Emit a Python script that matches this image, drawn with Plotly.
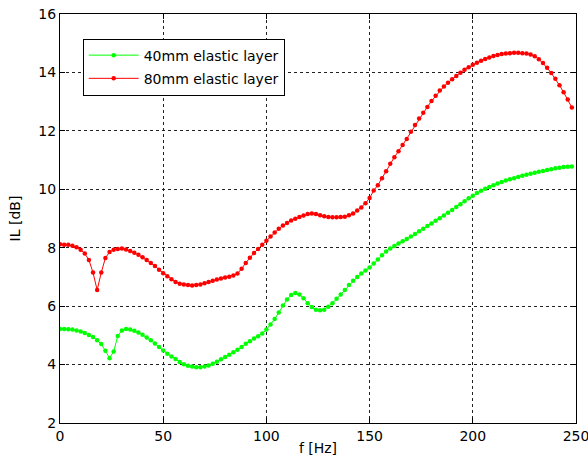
import plotly.graph_objects as go

# Frequency axis [Hz], sampled every 2 Hz
freq = list(range(0, 250, 2))

# Insertion loss [dB], 40 mm elastic layer
il_40mm = [
    5.22, 5.22, 5.21, 5.20, 5.17, 5.13, 5.08, 5.01, 4.94, 4.83,
    4.70, 4.47, 4.22, 4.45, 4.98, 5.17, 5.22, 5.20, 5.16, 5.10,
    5.02, 4.93, 4.83, 4.72, 4.60, 4.48, 4.37, 4.28, 4.19, 4.09,
    4.01, 3.96, 3.93, 3.91, 3.91, 3.93, 3.97, 4.03, 4.10, 4.18,
    4.26, 4.34, 4.42, 4.51, 4.60, 4.71, 4.80, 4.89, 4.97, 5.06,
    5.20, 5.37, 5.56, 5.78, 6.02, 6.23, 6.38, 6.45, 6.40, 6.27,
    6.10, 5.97, 5.88, 5.86, 5.88, 5.98, 6.10, 6.25, 6.40, 6.55,
    6.72, 6.87, 7.00, 7.12, 7.22, 7.32, 7.46, 7.60, 7.74, 7.87,
    7.97, 8.06, 8.14, 8.22, 8.30, 8.38, 8.47, 8.56, 8.65, 8.74,
    8.83, 8.92, 9.01, 9.10, 9.20, 9.29, 9.39, 9.49, 9.59, 9.69,
    9.78, 9.87, 9.95, 10.02, 10.08, 10.14, 10.20, 10.25, 10.30, 10.34,
    10.38, 10.42, 10.46, 10.50, 10.53, 10.57, 10.60, 10.63, 10.66, 10.69,
    10.72, 10.74, 10.76, 10.77, 10.78,
]

# Insertion loss [dB], 80 mm elastic layer
il_80mm = [
    8.12, 8.10, 8.10, 8.07, 8.02, 7.93, 7.80, 7.58, 7.15, 6.55,
    7.15, 7.65, 7.85, 7.93, 7.96, 7.97, 7.94, 7.89, 7.83, 7.76,
    7.67, 7.58, 7.48, 7.37, 7.25, 7.13, 7.02, 6.92, 6.83, 6.77,
    6.74, 6.72, 6.71, 6.72, 6.74, 6.78, 6.83, 6.87, 6.91, 6.95,
    6.98, 7.01, 7.05, 7.12, 7.28, 7.48, 7.66, 7.82, 7.96, 8.10,
    8.24, 8.38, 8.52, 8.65, 8.76, 8.85, 8.93, 8.99, 9.05, 9.10,
    9.15, 9.17, 9.15, 9.11, 9.08, 9.05, 9.04, 9.04, 9.05, 9.06,
    9.11, 9.17, 9.27, 9.38, 9.52, 9.70, 9.96, 10.14, 10.38, 10.62,
    10.87, 11.10, 11.30, 11.52, 11.72, 11.97, 12.20, 12.42, 12.62, 12.82,
    13.02, 13.20, 13.38, 13.52, 13.65, 13.77, 13.88, 13.99, 14.09, 14.18,
    14.26, 14.33, 14.40, 14.46, 14.51, 14.56, 14.60, 14.63, 14.65, 14.66,
    14.67, 14.67, 14.66, 14.65, 14.61, 14.55, 14.45, 14.32, 14.16, 13.98,
    13.78, 13.56, 13.32, 13.07, 12.80,
]

x_ticks = [0, 50, 100, 150, 200, 250]
y_ticks = [2, 4, 6, 8, 10, 12, 14, 16]

FONT = "DejaVu Sans"

fig = go.Figure()
fig.add_trace(go.Scatter(
    x=freq, y=il_40mm, mode="lines+markers", name="40mm elastic layer",
    line=dict(color="#00ff00", width=1),
    marker=dict(color="#00ff00", size=4.5),
    legendgroup="a",
))
fig.add_trace(go.Scatter(
    x=freq, y=il_80mm, mode="lines+markers", name="80mm elastic layer",
    line=dict(color="#ff0000", width=1),
    marker=dict(color="#ff0000", size=4.5),
    legendgroup="b",
))

axis_common = dict(
    showline=True, linecolor="black", linewidth=1, mirror="allticks",
    ticks="inside", ticklen=5, tickcolor="black",
    showgrid=True, gridcolor="#222222", gridwidth=1, griddash="3px,3px",
    zeroline=False, automargin=False, ticklabeloverflow="allow",
    tickfont=dict(family=FONT, size=14, color="black"),
)

fig.update_layout(
    width=588, height=467,
    margin=dict(l=60, r=12, t=14, b=44),
    paper_bgcolor="white", plot_bgcolor="white",
    font=dict(family=FONT, size=14, color="black"),
    showlegend=True,
    legend=dict(
        x=0.044, y=0.94, xanchor="left", yanchor="top",
        bgcolor="white", bordercolor="black", borderwidth=1,
        font=dict(family=FONT, size=14, color="black"),
        traceorder="grouped", tracegroupgap=2,
        itemwidth=50,
    ),
    xaxis=dict(
        range=[0, 250], tickvals=x_ticks,
        title=dict(text="f [Hz]", font=dict(family=FONT, size=14), standoff=0),
        **axis_common,
    ),
    yaxis=dict(
        range=[2, 16], tickvals=y_ticks,
        title=dict(text="IL [dB]", font=dict(family=FONT, size=14), standoff=14),
        **axis_common,
    ),
)

fig.write_html("out.html")
